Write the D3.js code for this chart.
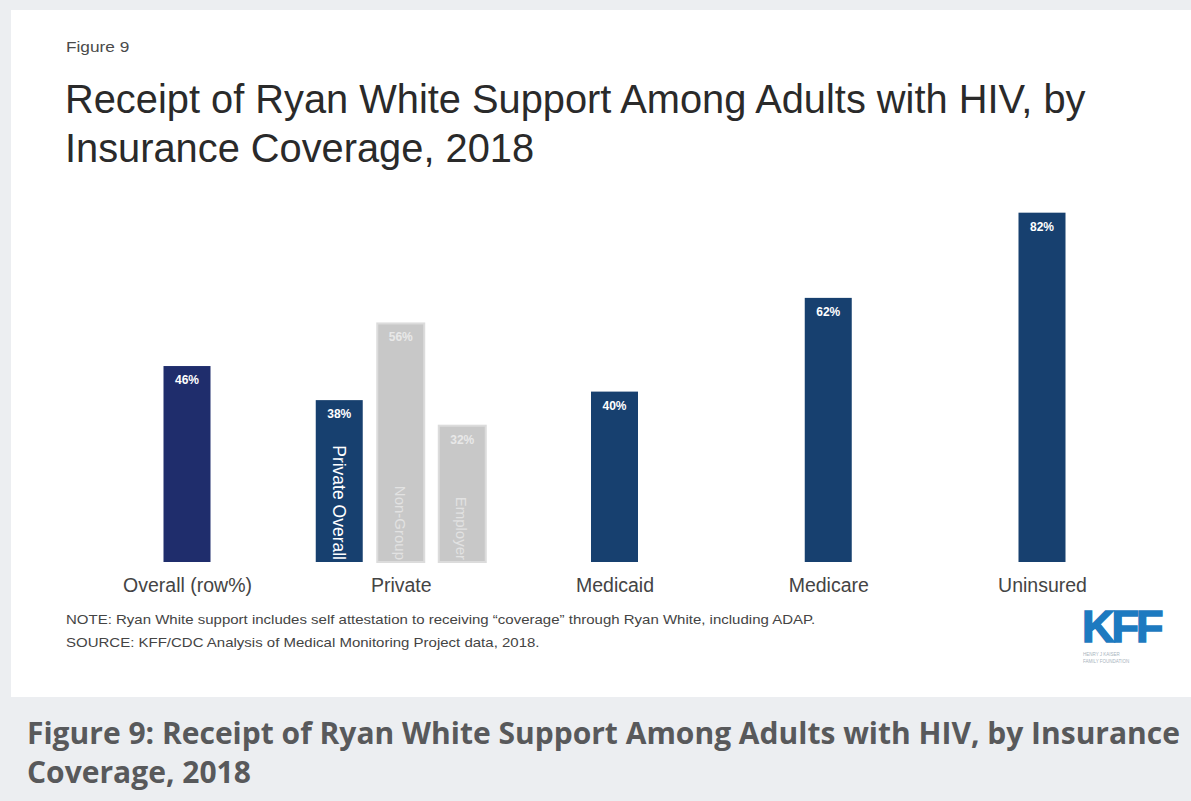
<!DOCTYPE html>
<html>
<head>
<meta charset="utf-8">
<script src="https://cdn.jsdelivr.net/npm/d3@7"></script>
<style>
  html, body { margin: 0; padding: 0; background: #eceef1; }
  svg { display: block; }
</style>
</head>
<body>
<svg id="chart" width="1191" height="801"></svg>
<script>
// ---- data ----
const categories = ["Overall (row%)", "Private", "Medicaid", "Medicare", "Uninsured"];
const values = [46, null, 40, 62, 82];
const privateSub = ["Private Overall", "Non-Group", "Employer"];
const privateValues = [38, 56, 32];
const privateHighlight = [true, false, false];
const titleLines = ["Receipt of Ryan White Support Among Adults with HIV, by", "Insurance Coverage, 2018"];
const notes = [
  "NOTE: Ryan White support includes self attestation to receiving \u201ccoverage\u201d through Ryan White, including ADAP.",
  "SOURCE: KFF/CDC Analysis of Medical Monitoring Project data, 2018."
];
const captionLines = ["Figure 9: Receipt of Ryan White Support Among Adults with HIV, by Insurance", "Coverage, 2018"];

const svg = d3.select("#chart");
const W = 1191, H = 801;

// background card
svg.append("rect").attr("x", 0).attr("y", 0).attr("width", W).attr("height", H).attr("fill", "#eceef1");
svg.append("rect").attr("x", 11).attr("y", 10).attr("width", W - 11).attr("height", 687).attr("fill", "#ffffff");

const sans = "Liberation Sans, Arial, sans-serif";

svg.append("text").attr("transform", "translate(66,52) scale(1.15,1)").attr("font-family", sans).attr("font-size", 15)
  .attr("fill", "#4a4a4a").text("Figure 9");

svg.selectAll("text.title").data(titleLines).join("text").attr("class", "title")
  .attr("x", 65).attr("y", (d, i) => 113 + i * 49)
  .attr("font-family", sans).attr("font-size", 39.8).attr("fill", "#2a2a2a").text(d => d);

// scales
const x = d3.scalePoint().domain(categories).range([187, 1042]).padding(0);
const y = d3.scaleLinear().domain([0, 100]).range([562, 136]);
const bw = 47;
const xSub = d3.scaleBand().domain(privateSub).range([-85, 85]).paddingInner(0.236).paddingOuter(0);

const navy = "#17406f";
const overallNavy = "#1f2d6c";

// main bars
const mainData = categories.map((c, i) => ({ c, v: values[i] })).filter(d => d.v !== null);
svg.selectAll("rect.bar").data(mainData).join("rect").attr("class", "bar")
  .attr("x", d => x(d.c) - bw / 2).attr("y", d => y(d.v))
  .attr("width", bw).attr("height", d => y(0) - y(d.v))
  .attr("fill", (d, i) => i === 0 ? overallNavy : navy);

svg.selectAll("text.val").data(mainData).join("text").attr("class", "val")
  .attr("x", d => x(d.c)).attr("y", d => y(d.v) + 18)
  .attr("text-anchor", "middle").attr("font-family", sans).attr("font-size", 12).attr("font-weight", "bold")
  .attr("fill", "#ffffff").text(d => d.v + "%");

// private sub-bars
const subData = privateSub.map((s, i) => ({ s, v: privateValues[i], hl: privateHighlight[i] }));
const px = x("Private");
svg.selectAll("rect.sub").data(subData).join("rect").attr("class", "sub")
  .attr("x", d => px + xSub(d.s)).attr("y", d => y(d.v))
  .attr("width", xSub.bandwidth()).attr("height", d => y(0) - y(d.v))
  .attr("fill", d => d.hl ? navy : "#c8c8c8")
  .attr("stroke", d => d.hl ? "none" : "#dcdcdc").attr("stroke-width", 2);

svg.selectAll("text.subval").data(subData).join("text").attr("class", "subval")
  .attr("x", d => px + xSub(d.s) + xSub.bandwidth() / 2).attr("y", d => y(d.v) + 18)
  .attr("text-anchor", "middle").attr("font-family", sans).attr("font-size", 12).attr("font-weight", "bold")
  .attr("fill", d => d.hl ? "#ffffff" : "#e8e8e8").text(d => d.v + "%");

svg.selectAll("text.sublab").data(subData).join("text").attr("class", "sublab")
  .attr("transform", d => `translate(${px + xSub(d.s) + xSub.bandwidth() / 2 - 6},${y(0) - 2}) rotate(90)`)
  .attr("text-anchor", "end")
  .attr("font-family", sans).attr("font-size", d => d.hl ? 17.5 : 15)
  .attr("fill", d => d.hl ? "#ffffff" : "#e2e2e2").text(d => d.s);

// axis labels
const xAxis = d3.axisBottom(x).tickSize(0).tickPadding(0);
const ax = svg.append("g").attr("transform", `translate(0,${y(0)})`).call(xAxis);
ax.select(".domain").remove();
ax.selectAll("text").attr("font-family", sans).attr("font-size", 19.5).attr("fill", "#444")
  .attr("dy", null).attr("y", 30);

// notes
svg.selectAll("text.note").data(notes).join("text").attr("class", "note")
  .attr("transform", (d, i) => `translate(66,${624 + i * 23}) scale(1.12,1)`)
  .attr("font-family", sans).attr("font-size", 13.4).attr("fill", "#444").text(d => d);

// KFF logo
svg.append("text").attr("x", 1082).attr("y", 642).attr("font-family", sans).attr("font-weight", "bold")
  .attr("font-size", 45).attr("letter-spacing", -3).attr("fill", "#1d7ac0")
  .attr("stroke", "#1d7ac0").attr("stroke-width", 1.5).text("KFF");
svg.append("text").attr("x", 1083).attr("y", 656).attr("font-family", sans).attr("font-size", 4.5)
  .attr("fill", "#a8b3bd").text("HENRY J KAISER");
svg.append("text").attr("x", 1083).attr("y", 663).attr("font-family", sans).attr("font-size", 4.5)
  .attr("fill", "#a8b3bd").text("FAMILY FOUNDATION");

// caption
svg.selectAll("text.cap").data(captionLines).join("text").attr("class", "cap")
  .attr("x", 27).attr("y", (d, i) => 744 + i * 39)
  .attr("font-family", "Open Sans, sans-serif").attr("font-weight", "bold").attr("font-size", 30)
  .attr("fill", "#58595b").text(d => d);
</script>
</body>
</html>
